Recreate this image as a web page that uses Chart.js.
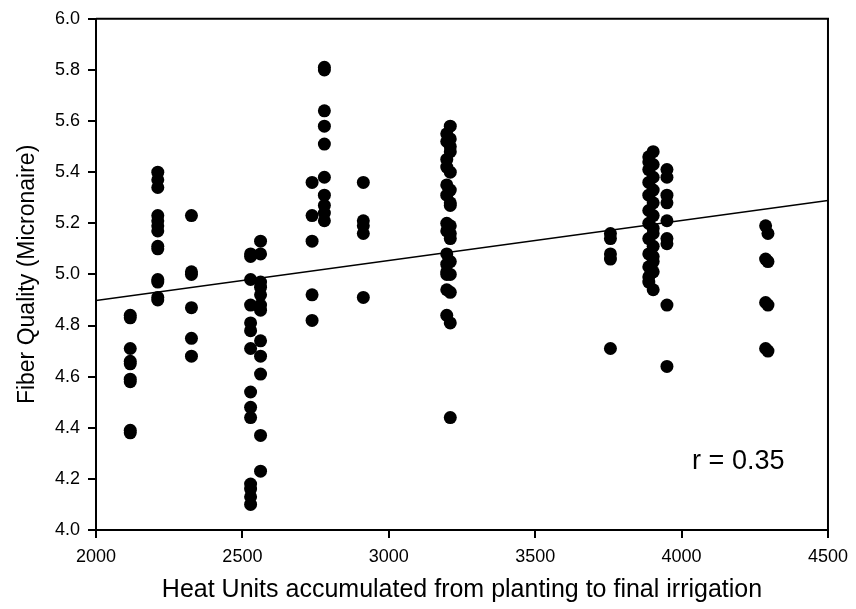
<!DOCTYPE html>
<html>
<head>
<meta charset="utf-8">
<script src="https://cdn.jsdelivr.net/npm/chart.js@4.4.1/dist/chart.umd.min.js"></script>
<style>
  html, body { margin: 0; padding: 0; background: #fff; }
  canvas { display: block; }
</style>
</head>
<body>
<canvas id="fiberChart" width="856" height="609"></canvas>
<script>
// heat units for each vertical group of observations
var heatUnits = [2117, 2211, 2326, 2528, 2562, 2738, 2780, 2913, 3198, 3210, 3757, 3888, 3903, 3950, 4287, 4295];

// micronaire readings for each group (same order as heatUnits)
var micronaire = [
    [4.84, 4.83, 4.71, 4.66, 4.65, 4.59, 4.58, 4.39, 4.38],
    [5.40, 5.37, 5.34, 5.23, 5.21, 5.19, 5.17, 5.11, 5.10, 4.98, 4.97, 4.91, 4.90],
    [5.23, 5.01, 5.00, 4.87, 4.75, 4.68],
    [5.08, 5.07, 4.98, 4.88, 4.81, 4.78, 4.71, 4.54, 4.48, 4.44, 4.18, 4.16, 4.13, 4.10],
    [5.13, 5.08, 4.97, 4.95, 4.92, 4.88, 4.86, 4.74, 4.68, 4.61, 4.37, 4.23],
    [5.36, 5.23, 5.13, 4.92, 4.82],
    [5.81, 5.80, 5.64, 5.58, 5.51, 5.38, 5.31, 5.27, 5.24, 5.21],
    [5.36, 5.21, 5.19, 5.16, 4.91],
    [5.55, 5.52, 5.45, 5.42, 5.35, 5.31, 5.20, 5.17, 5.08, 5.04, 5.01, 5.00, 4.94, 4.84],
    [5.58, 5.53, 5.50, 5.48, 5.40, 5.33, 5.28, 5.27, 5.19, 5.16, 5.14, 5.05, 5.00, 4.93, 4.81, 4.44],
    [5.16, 5.14, 5.08, 5.06, 4.71],
    [5.46, 5.44, 5.41, 5.36, 5.31, 5.25, 5.20, 5.14, 5.08, 5.03, 4.99, 4.97],
    [5.48, 5.43, 5.38, 5.33, 5.28, 5.23, 5.18, 5.16, 5.11, 5.07, 5.05, 5.01, 4.94],
    [5.41, 5.38, 5.31, 5.28, 5.21, 5.14, 5.12, 4.88, 4.64],
    [5.19, 5.06, 4.89, 4.71],
    [5.16, 5.05, 4.88, 4.70]
];

// regression line end points and correlation label
var fitX = [2000, 4500];
var fitY = [4.898, 5.289];
var rLabel = 'r = 0.35';
var rAt = [4036, 4.240];

var xTicks = [2000, 2500, 3000, 3500, 4000, 4500];
var yTicks = [4.0, 4.2, 4.4, 4.6, 4.8, 5.0, 5.2, 5.4, 5.6, 5.8, 6.0];

var FONT = '"Liberation Sans", Arial, Helvetica, sans-serif';

var points = [];
heatUnits.forEach(function (hu, i) {
    micronaire[i].forEach(function (v) {
        points.push({ x: hu, y: v });
    });
});

var fitLine = fitX.map(function (x, i) { return { x: x, y: fitY[i] }; });

// frame on top/right plus the r label
var extras = {
    id: 'extras',
    afterDatasetsDraw: function (chart) {
        var ctx = chart.ctx, a = chart.chartArea;
        ctx.save();
        ctx.strokeStyle = '#000';
        ctx.lineWidth = 2;
        ctx.beginPath();
        ctx.moveTo(a.left, a.top);
        ctx.lineTo(a.right, a.top);
        ctx.lineTo(a.right, a.bottom);
        ctx.stroke();
        ctx.fillStyle = '#000';
        ctx.font = '27px ' + FONT;
        ctx.textAlign = 'left';
        ctx.textBaseline = 'alphabetic';
        ctx.fillText(rLabel, chart.scales.x.getPixelForValue(rAt[0]), chart.scales.y.getPixelForValue(rAt[1]));
        ctx.restore();
    }
};

var ctx = document.getElementById('fiberChart').getContext('2d');
var chart = new Chart(ctx, {
    type: 'scatter',
    data: {
        datasets: [
            {
                label: 'Observed',
                data: points,
                backgroundColor: '#000',
                borderWidth: 0,
                pointRadius: 6.5,
                pointHoverRadius: 6.5
            },
            {
                type: 'line',
                label: 'Fit',
                data: fitLine,
                borderColor: '#000',
                borderWidth: 1.6,
                pointRadius: 0,
                fill: false
            }
        ]
    },
    options: {
        responsive: false,
        animation: false,
        events: [],
        layout: { padding: { top: 17, right: 18, left: 0, bottom: 0 } },
        plugins: {
            legend: { display: false },
            tooltip: { enabled: false }
        },
        scales: {
            x: {
                type: 'linear',
                min: 2000,
                max: 4500,
                afterBuildTicks: function (s) { s.ticks = xTicks.map(function (v) { return { value: v }; }); },
                afterFit: function (s) { s.height = 79; },
                ticks: {
                    color: '#000',
                    font: { family: FONT, size: 18 },
                    padding: 8,
                    maxRotation: 0,
                    callback: function (v) { return String(v); }
                },
                grid: { drawOnChartArea: false, drawTicks: true, tickLength: 8, color: '#000', lineWidth: 2 },
                border: { display: true, color: '#000', width: 2 },
                title: {
                    display: true,
                    text: 'Heat Units accumulated from planting to final irrigation',
                    color: '#000',
                    font: { family: FONT, size: 25 },
                    padding: { top: 0, bottom: 4 }
                }
            },
            y: {
                type: 'linear',
                min: 4.0,
                max: 6.0,
                afterBuildTicks: function (s) { s.ticks = yTicks.map(function (v) { return { value: v }; }); },
                afterFit: function (s) { s.width = 96; },
                ticks: {
                    color: '#000',
                    font: { family: FONT, size: 18 },
                    padding: 8,
                    callback: function (v) { return Number(v).toFixed(1); }
                },
                grid: { drawOnChartArea: false, drawTicks: true, tickLength: 8, color: '#000', lineWidth: 2 },
                border: { display: true, color: '#000', width: 2 },
                title: {
                    display: true,
                    text: 'Fiber Quality (Micronaire)',
                    color: '#000',
                    font: { family: FONT, size: 23 },
                    padding: { top: 14, bottom: 0 }
                }
            }
        }
    },
    plugins: [extras]
});
</script>
</body>
</html>
